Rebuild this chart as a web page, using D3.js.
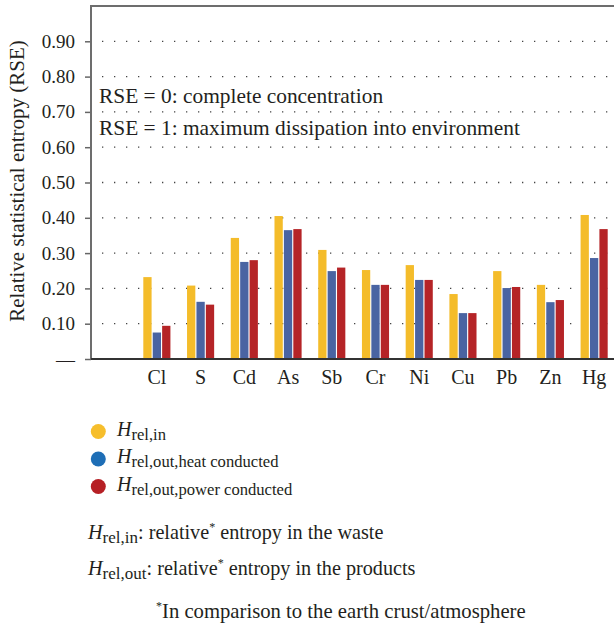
<!DOCTYPE html>
<html>
<head>
<meta charset="utf-8">
<script src="https://cdnjs.cloudflare.com/ajax/libs/d3/7.8.5/d3.min.js"></script>
<style>
body { margin: 0; background: #fff; }
.serif { font-family: "Liberation Serif"; fill: #231f20; }
</style>
</head>
<body>
<div id="chart"></div>
<script>
// data
var elements = ["Cl", "S", "Cd", "As", "Sb", "Cr", "Ni", "Cu", "Pb", "Zn", "Hg"];
var hRelIn = [0.232, 0.208, 0.343, 0.405, 0.309, 0.252, 0.266, 0.184, 0.249, 0.210, 0.408];
var hRelOutHeat = [0.075, 0.162, 0.275, 0.365, 0.249, 0.210, 0.224, 0.130, 0.201, 0.161, 0.286];
var hRelOutPower = [0.094, 0.154, 0.280, 0.368, 0.259, 0.210, 0.224, 0.130, 0.204, 0.167, 0.368];
var yTicks = [0, 0.1, 0.2, 0.3, 0.4, 0.5, 0.6, 0.7, 0.8, 0.9];
var seriesKeys = ["in", "heat", "power"];
var seriesLabels = ["rel,in", "rel,out,heat conducted", "rel,out,power conducted"];
var barColors = ["#f4bc2a", "#4a64a2", "#b52427"];
var legendColors = ["#f6be2c", "#1e6eb6", "#b62025"];

var svgWidth = 614;
var svgHeight = 627;

var plot = { left: 91, top: 6, right: 614, bottom: 359 };

var svg = d3.select("#chart").append("svg")
    .attr("width", svgWidth)
    .attr("height", svgHeight);

var yScale = d3.scaleLinear()
    .domain([0, 1])
    .range([plot.bottom, plot.top]);

var xScale = d3.scaleBand()
    .domain(elements)
    .range([135, 616])
    .paddingInner(0.38)
    .paddingOuter(0.19);

var xSub = d3.scaleBand()
    .domain(seriesKeys)
    .range([0, xScale.bandwidth()])
    .paddingInner(0.12);

// dotted gridlines
svg.append("g").selectAll("line")
    .data(yTicks.filter(d => d > 0))
    .enter()
    .append("line")
    .attr("x1", 102)
    .attr("x2", plot.right)
    .attr("y1", d => yScale(d))
    .attr("y2", d => yScale(d))
    .attr("stroke", "#444")
    .attr("stroke-width", 1.3)
    .attr("stroke-dasharray", "1.3,10.7");

// y axis
var yAxis = d3.axisLeft(yScale)
    .tickValues(yTicks)
    .tickSize(6)
    .tickPadding(10)
    .tickFormat(d => d === 0 ? "\u2014" : d3.format(".2f")(d));

var yAxisGroup = svg.append("g")
    .attr("transform", `translate(${plot.left}, 0)`)
    .call(yAxis)
    .attr("font-family", null)
    .attr("font-size", null);
yAxisGroup.select(".domain").remove();
yAxisGroup.selectAll(".tick line").attr("stroke", "#666").attr("stroke-width", 1.5);
yAxisGroup.selectAll(".tick text")
    .classed("serif", true)
    .attr("font-size", 19)
    .attr("fill", "#231f20");

// bars
var rows = elements.map((e, i) => ({ el: e, vals: [hRelIn[i], hRelOutHeat[i], hRelOutPower[i]] }));
var groups = svg.append("g").selectAll("g")
    .data(rows)
    .enter()
    .append("g")
    .attr("transform", d => `translate(${xScale(d.el)}, 0)`);

groups.selectAll("rect")
    .data(d => d.vals.map((v, j) => ({ key: seriesKeys[j], v: v, j: j })))
    .enter()
    .append("rect")
    .attr("x", d => xSub(d.key))
    .attr("width", xSub.bandwidth())
    .attr("y", d => yScale(d.v))
    .attr("height", d => yScale(0) - yScale(d.v))
    .attr("fill", d => barColors[d.j]);

// frame
svg.append("line")
    .attr("x1", plot.left).attr("x2", plot.left)
    .attr("y1", plot.top).attr("y2", plot.bottom)
    .attr("stroke", "#6d6d6d").attr("stroke-width", 2);
svg.append("line")
    .attr("x1", plot.left - 1).attr("x2", plot.right)
    .attr("y1", plot.top).attr("y2", plot.top)
    .attr("stroke", "#6d6d6d").attr("stroke-width", 2);
svg.append("line")
    .attr("x1", plot.left).attr("x2", plot.right)
    .attr("y1", plot.bottom).attr("y2", plot.bottom)
    .attr("stroke", "#333").attr("stroke-width", 2);

// x axis labels
var xAxis = d3.axisBottom(xScale).tickSize(0).tickPadding(11);
var xAxisGroup = svg.append("g")
    .attr("transform", `translate(0, ${plot.bottom})`)
    .call(xAxis)
    .attr("font-family", null)
    .attr("font-size", null);
xAxisGroup.select(".domain").remove();
xAxisGroup.selectAll(".tick text")
    .classed("serif", true)
    .attr("font-size", 20)
    .attr("fill", "#231f20");

// annotation inside plot
svg.append("text")
    .attr("class", "serif")
    .attr("x", 99).attr("y", 103)
    .attr("font-size", 21.4)
    .text("RSE = 0: complete concentration");
svg.append("text")
    .attr("class", "serif")
    .attr("x", 99).attr("y", 135)
    .attr("font-size", 21.4)
    .text("RSE = 1: maximum dissipation into environment");

// y label
svg.append("text")
    .attr("class", "serif")
    .attr("transform", "rotate(-90)")
    .attr("x", -181)
    .attr("y", 24)
    .attr("text-anchor", "middle")
    .attr("font-size", 21)
    .text("Relative statistical entropy (RSE)");

// legend
var legend = svg.append("g").selectAll("g")
    .data(seriesLabels)
    .enter()
    .append("g")
    .attr("transform", (d, i) => `translate(0, ${431.5 + i * 27.5})`);
legend.append("circle")
    .attr("cx", 98.3)
    .attr("cy", 0)
    .attr("r", 7.5)
    .attr("fill", (d, i) => legendColors[i]);
var legendText = legend.append("text")
    .attr("class", "serif")
    .attr("x", 117)
    .attr("y", 4)
    .attr("font-size", 20);
legendText.append("tspan").attr("font-style", "italic").text("H");
legendText.append("tspan").attr("font-size", 16.6).attr("dy", 4).text(d => d);

// notes below
function note(y, sub, rest) {
    var t = svg.append("text").attr("class", "serif").attr("x", 88).attr("y", y).attr("font-size", 20.2);
    t.append("tspan").attr("font-style", "italic").text("H");
    t.append("tspan").attr("font-size", 17).attr("dy", 4).text(sub);
    t.append("tspan").attr("dy", -4).text(": relative");
    t.append("tspan").attr("font-size", 12).attr("dy", -8).text("*");
    t.append("tspan").attr("dy", 8).text(" entropy in the " + rest);
}
note(539, "rel,in", "waste");
note(575, "rel,out", "products");

var foot = svg.append("text").attr("class", "serif").attr("x", 156).attr("y", 618).attr("font-size", 20.7);
foot.append("tspan").attr("font-size", 12).attr("dy", -8).text("*");
foot.append("tspan").attr("dy", 8).text("In comparison to the earth crust/atmosphere");
</script>
</body>
</html>
